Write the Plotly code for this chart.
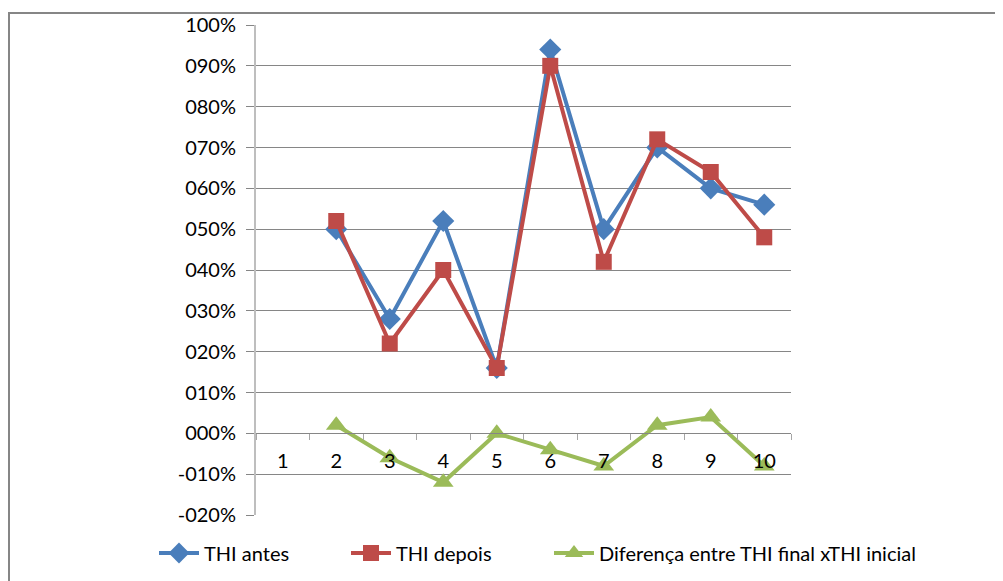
import plotly.graph_objects as go

categories = ["1", "2", "3", "4", "5", "6", "7", "8", "9", "10"]
thi_antes = [None, 0.50, 0.28, 0.52, 0.16, 0.94, 0.50, 0.70, 0.60, 0.56]
thi_depois = [None, 0.52, 0.22, 0.40, 0.16, 0.90, 0.42, 0.72, 0.64, 0.48]
diferenca = [None, 0.02, -0.06, -0.12, 0.00, -0.04, -0.08, 0.02, 0.04, -0.08]
y_ticks = [-0.2, -0.1, 0.0, 0.1, 0.2, 0.3, 0.4, 0.5, 0.6, 0.7, 0.8, 0.9, 1.0]
y_ticktext = ["-020%", "-010%", "000%", "010%", "020%", "030%", "040%", "050%",
              "060%", "070%", "080%", "090%", "100%"]

FONT = "Lato"
FS = 20
OFF = 8  # page body margin
W, H = 995, 573
# screen coordinates of the plot area
SX0, SX1, SY0, SY1 = 256, 791, 25, 515
L, R = SX0 - OFF, W - (SX1 - OFF)
T, B = SY0 - OFF, H - (SY1 - OFF)
pw, ph = W - L - R, H - T - B


def px_x(sx):
    return (sx - OFF - L) / pw


def px_y(sy):
    return (H - B - (sy - OFF)) / ph


fig = go.Figure()
fig.add_trace(go.Scatter(x=categories, y=thi_antes, name="THI antes", mode="lines+markers",
                         line=dict(color="#4A7EBB", width=4),
                         marker=dict(symbol="diamond", size=17, color="#4A7EBB"),
                         legend="legend"))
fig.add_trace(go.Scatter(x=categories, y=thi_depois, name="THI depois", mode="lines+markers",
                         line=dict(color="#BE4B48", width=4),
                         marker=dict(symbol="square", size=16, color="#BE4B48"),
                         legend="legend2"))
fig.add_trace(go.Scatter(x=categories, y=diferenca, name="Diferença entre THI final xTHI inicial",
                         mode="lines+markers",
                         line=dict(color="#9BBB59", width=4),
                         marker=dict(symbol="triangle-up", size=18, color="#9BBB59"),
                         legend="legend3"))

leg_common = dict(orientation="h", yanchor="middle", y=px_y(553), xanchor="left",
                  font=dict(family=FONT, size=FS, color="#000000"), itemwidth=40,
                  bgcolor="rgba(0,0,0,0)", borderwidth=0)

fig.update_layout(
    width=W, height=H,
    margin=dict(l=L, r=R, t=T, b=B, autoexpand=False),
    paper_bgcolor="white", plot_bgcolor="white",
    font=dict(family=FONT, size=FS, color="#000000"),
    showlegend=True,
    legend=dict(leg_common, x=px_x(154)),
    legend2=dict(leg_common, x=px_x(346)),
    legend3=dict(leg_common, x=px_x(549)),
    xaxis=dict(type="category", range=[-0.5, 9.5], anchor="free", position=0.2 / 1.2,
               showline=True, linecolor="#868686", linewidth=1,
               ticks="outside", ticklen=6, tickcolor="#A6A6A6", tickson="boundaries",
               showgrid=False, zeroline=False, tickfont=dict(size=FS), ticklabelstandoff=10,
               automargin=False),
    yaxis=dict(range=[-0.2, 1.0], tickvals=y_ticks, ticktext=y_ticktext,
               showgrid=True, gridcolor="#868686", gridwidth=1,
               showline=True, linecolor="#BEBEBE", linewidth=2,
               ticks="outside", ticklen=8, tickcolor="#868686",
               zeroline=False, tickfont=dict(size=FS), ticklabelstandoff=6,
               automargin=False),
    shapes=[dict(type="rect", xref="paper", yref="paper",
                 x0=px_x(9), x1=px_x(1020), y0=px_y(600), y1=px_y(13),
                 line=dict(color="#868686", width=2), fillcolor="rgba(0,0,0,0)", layer="below")],
)
fig.write_html("out.html")
